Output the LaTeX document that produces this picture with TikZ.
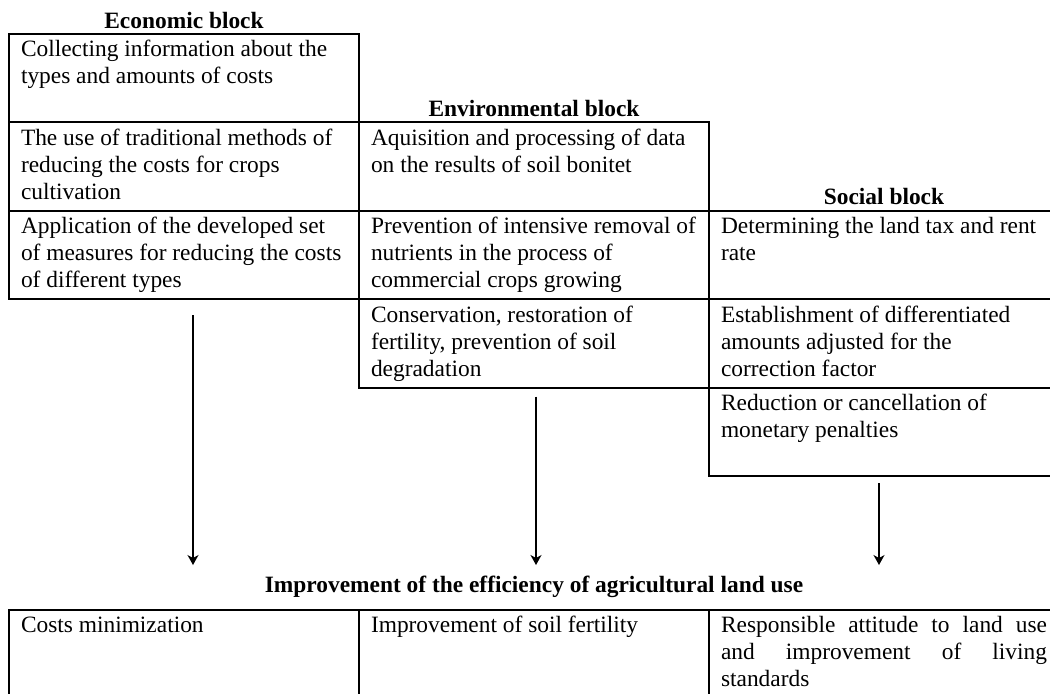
\documentclass[tikz,border=0pt]{standalone}
\usepackage{fontspec}
\setmainfont{Liberation Serif}
\usetikzlibrary{positioning,arrows.meta}
\newcommand{\celltext}[1]{\parbox[t][40.2pt][t]{163pt}{\raggedright\strut #1}}
\newcommand{\celljust}[1]{\parbox[t][40.2pt][t]{163pt}{\strut #1}}

\begin{document}
\begin{tikzpicture}[x=0.5pt, y=-0.5pt,
    font=\fontsize{11.7}{13.5}\selectfont,
    cell/.style={draw, line width=1pt, outer sep=0pt, inner xsep=6pt, inner ysep=2pt},
    blockhead/.style={font=\fontsize{11.7}{13.5}\selectfont\bfseries, inner sep=0pt, anchor=base},
    flow/.style={line width=0.6pt, -{Stealth[length=5pt,width=5.5pt,inset=1.5pt]}}]
    \useasboundingbox (0,0) rectangle (1050,693);

    % economic block
    \node[cell, anchor=north west] (eco1) at (9,34) {\celltext{Collecting information about the \\ types and amounts of costs}};
    \node[cell, below=0pt of eco1] (eco2) {\celltext{The use of traditional methods of \\ reducing the costs for crops \\ cultivation}};
    \node[cell, below=0pt of eco2] (eco3) {\celltext{Application of the developed set \\ of measures for reducing the costs \\ of different types}};
    \node[blockhead] (ecohead) at ([yshift=3pt]eco1.north) {Economic block};

    % environmental block
    \node[cell, right=0pt of eco2] (env1) {\celltext{Aquisition and processing of data \\ on the results of soil bonitet}};
    \node[cell, below=0pt of env1] (env2) {\celltext{Prevention of intensive removal of \\ nutrients in the process of \\ commercial crops growing}};
    \node[cell, below=0pt of env2] (env3) {\celltext{Conservation, restoration of \\ fertility, prevention of soil \\ degradation}};
    \node[blockhead] (envhead) at ([yshift=3pt]env1.north) {Environmental block};

    % social block
    \node[cell, right=0pt of env2] (soc1) {\celltext{Determining the land tax and rent \\ rate}};
    \node[cell, below=0pt of soc1] (soc2) {\celltext{Establishment of differentiated \\ amounts adjusted for the \\ correction factor}};
    \node[cell, below=0pt of soc2] (soc3) {\celltext{Reduction or cancellation of \\ monetary penalties}};
    \node[blockhead] (sochead) at ([yshift=3pt]soc1.north) {Social block};

    % result
    \node[blockhead] (goalhead) at (534,592) {Improvement of the efficiency of agricultural land use};
    \node[cell, anchor=north west] (res1) at (9,610) {\celltext{Costs minimization}};
    \node[cell, right=0pt of res1] (res2) {\celltext{Improvement of soil fertility}};
    \node[cell, right=0pt of res2] (res3) {\celljust{Responsible attitude to land use\linebreak and improvement of living\linebreak standards}};

    \coordinate (ecoend) at (193,565);
    \coordinate (envend) at (536,565);
    \coordinate (socend) at (879,565);
    \draw[flow] ([shift={(9,16)}]eco3.south) -- (ecoend);
    \draw[flow] ([shift={(2,9)}]env3.south) -- (envend);
    \draw[flow] ([shift={(-5,7)}]soc3.south) -- (socend);
\end{tikzpicture}
\end{document}
